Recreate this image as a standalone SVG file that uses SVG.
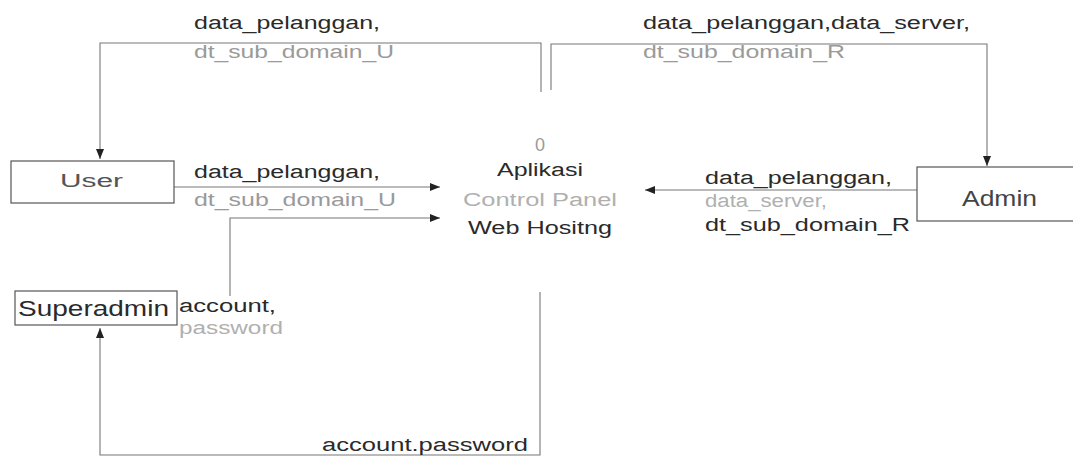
<svg xmlns="http://www.w3.org/2000/svg" width="1073" height="458" viewBox="0 0 1073 458">
<style>
text{font-family:"Liberation Sans",Arial,sans-serif;font-size:18px;fill:#2a2a2a}
.g{fill:#9a9a9a}
.lg{fill:#b0b0b0}
.box{fill:#fff;stroke:#555;stroke-width:1.2}
.ln{fill:none;stroke:#777;stroke-width:1.1}
.big{font-size:22px}
</style>
<defs>
<marker id="ah" markerWidth="11" markerHeight="8" refX="10" refY="4" orient="auto" markerUnits="userSpaceOnUse">
<path d="M0,0 L10,4 L0,8 z" fill="#222"/>
</marker>
</defs>
<rect width="1073" height="458" fill="#fff"/>
<g id="connectors">
<path class="ln" d="M541,92 V43 H100 V159" marker-end="url(#ah)"/>
<path class="ln" d="M551,90 V44 H987 V166" marker-end="url(#ah)"/>
<path class="ln" d="M174,187 H440" marker-end="url(#ah)"/>
<path class="ln" d="M230,296 V218 H440" marker-end="url(#ah)"/>
<path class="ln" d="M917,190 H645" marker-end="url(#ah)"/>
<path class="ln" d="M540,292 V455 H100 V328" marker-end="url(#ah)"/>
<text x="194" y="29" textLength="186" lengthAdjust="spacingAndGlyphs">data_pelanggan,</text>
<text class="g" x="194" y="58" textLength="200" lengthAdjust="spacingAndGlyphs">dt_sub_domain_U</text>
<text x="643" y="29" textLength="327" lengthAdjust="spacingAndGlyphs">data_pelanggan,data_server,</text>
<text class="g" x="643" y="58" textLength="202" lengthAdjust="spacingAndGlyphs">dt_sub_domain_R</text>
<text x="194" y="178" textLength="186" lengthAdjust="spacingAndGlyphs">data_pelanggan,</text>
<text class="g" x="194" y="206" textLength="202" lengthAdjust="spacingAndGlyphs">dt_sub_domain_U</text>
<text x="705" y="184" textLength="187" lengthAdjust="spacingAndGlyphs">data_pelanggan,</text>
<text class="lg" x="705" y="207" textLength="122" lengthAdjust="spacingAndGlyphs">data_server,</text>
<text x="705" y="231" textLength="205" lengthAdjust="spacingAndGlyphs">dt_sub_domain_R</text>
<text x="179" y="312" textLength="97" lengthAdjust="spacingAndGlyphs">account,</text>
<text class="lg" x="179" y="334" textLength="104" lengthAdjust="spacingAndGlyphs">password</text>
<text x="322" y="451" textLength="206" lengthAdjust="spacingAndGlyphs">account.password</text>
</g>
<g id="process">
<text class="g" x="540" y="151" font-size="15" text-anchor="middle">0</text>
<text x="540" y="176" text-anchor="middle" textLength="86" lengthAdjust="spacingAndGlyphs">Aplikasi</text>
<text class="lg" x="540" y="206" text-anchor="middle" textLength="154" lengthAdjust="spacingAndGlyphs">Control Panel</text>
<text x="540" y="234" text-anchor="middle" textLength="144" lengthAdjust="spacingAndGlyphs">Web Hositng</text>
</g>
<g id="user">
<rect class="box" x="11" y="161" width="163" height="42"/>
<text x="60" y="187" style="fill:#555" textLength="63" lengthAdjust="spacingAndGlyphs">User</text>
</g>
<g id="admin">
<rect class="box" x="917" y="167" width="160" height="54"/>
<text class="big" x="962" y="206" style="fill:#444" textLength="75" lengthAdjust="spacingAndGlyphs">Admin</text>
</g>
<g id="superadmin">
<rect class="box" x="15" y="291" width="162" height="34"/>
<text class="big" x="18" y="316" textLength="151" lengthAdjust="spacingAndGlyphs">Superadmin</text>
</g>
</svg>
